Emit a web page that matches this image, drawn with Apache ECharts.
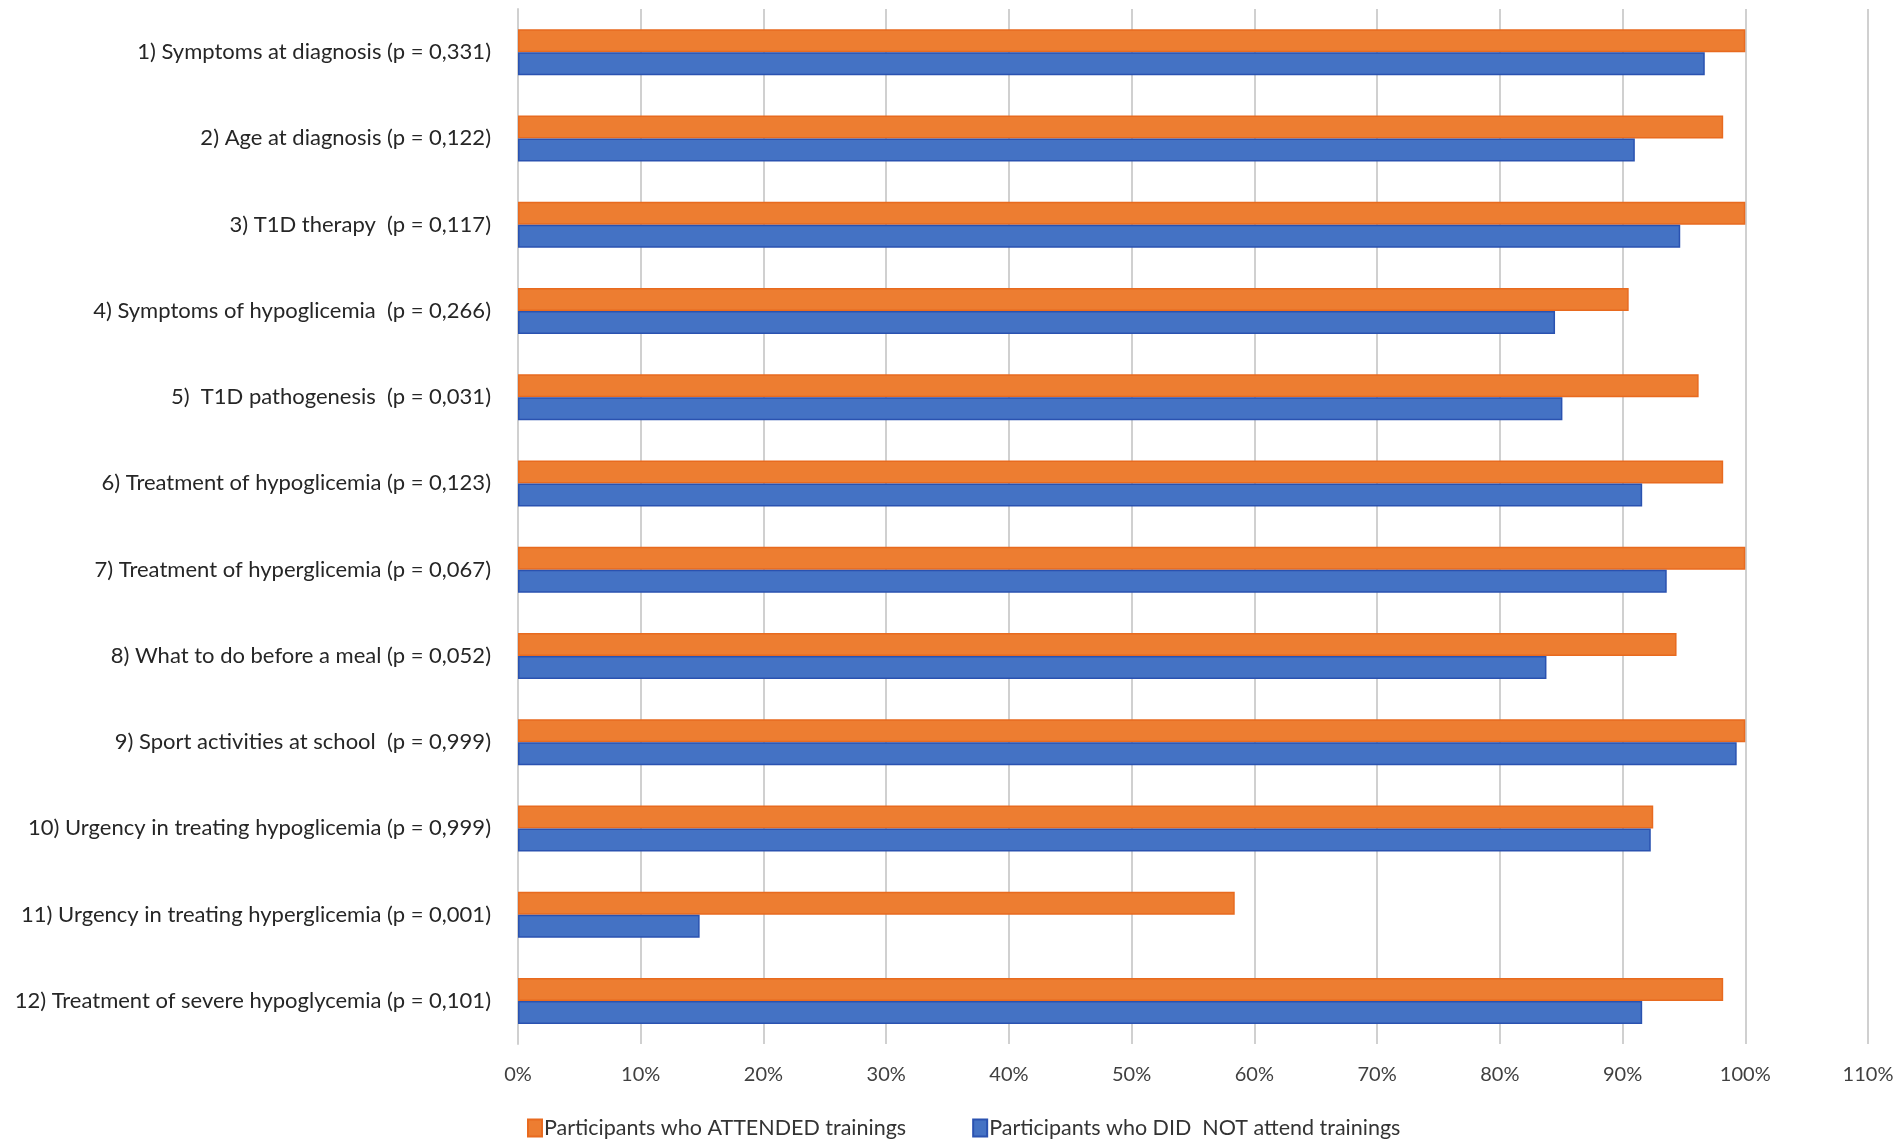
<!DOCTYPE html>
<html>
<head>
<meta charset="utf-8">
<script src="https://cdn.jsdelivr.net/npm/echarts@6/dist/echarts.min.js"></script>
<style>
html,body{margin:0;padding:0;background:#fff;}
#chart{width:1902px;height:1148px;}
</style>
</head>
<body>
<div id="chart"></div>
<script>
const categories = [
  "1) Symptoms at diagnosis (p = 0,331)",
  "2) Age at diagnosis (p = 0,122)",
  "3) T1D therapy  (p = 0,117)",
  "4) Symptoms of hypoglicemia  (p = 0,266)",
  "5)  T1D pathogenesis  (p = 0,031)",
  "6) Treatment of hypoglicemia (p = 0,123)",
  "7) Treatment of hyperglicemia (p = 0,067)",
  "8) What to do before a meal (p = 0,052)",
  "9) Sport activities at school  (p = 0,999)",
  "10) Urgency in treating hypoglicemia (p = 0,999)",
  "11) Urgency in treating hyperglicemia (p = 0,001)",
  "12) Treatment of severe hypoglycemia (p = 0,101)"
];
const attended = [100, 98.2, 100, 90.5, 96.2, 98.2, 100, 94.4, 100, 92.5, 58.4, 98.2];
const notAttended = [96.7, 91.0, 94.7, 84.5, 85.1, 91.6, 93.6, 83.8, 99.3, 92.3, 14.8, 91.6];
const seriesNames = ["Participants who ATTENDED trainings", "Participants who DID  NOT attend trainings"];
const xTicks = [0, 10, 20, 30, 40, 50, 60, 70, 80, 90, 100, 110];

const chart = echarts.init(document.getElementById('chart'), null, {renderer: 'canvas'});
const font = 'Lato, "Open Sans", sans-serif';
chart.setOption({
  animation: false,
  backgroundColor: '#ffffff',
  textStyle: {fontFamily: font},
  grid: {left: 518, right: 34, top: 9, bottom: 104},
  legend: {
    data: seriesNames,
    left: 522,
    top: 1112,
    itemWidth: 14,
    itemHeight: 17,
    itemGap: 66,
    icon: 'rect',
    textStyle: {fontFamily: font, fontSize: 21.5, color: '#333333', padding: [0,0,0,-3]}
  },
  xAxis: {
    type: 'value',
    min: xTicks[0],
    max: xTicks[xTicks.length - 1],
    interval: 10,
    axisLine: {show: false},
    axisTick: {show: false},
    splitLine: {show: true, lineStyle: {color: '#d0d0d0', width: 2}},
    axisLabel: {
      formatter: v => v + '%',
      fontFamily: font, fontSize: 20, color: '#404040', margin: 21
    }
  },
  yAxis: {
    type: 'category',
    data: categories,
    inverse: true,
    axisLine: {show: true, lineStyle: {color: '#d0d0d0', width: 2}},
    axisTick: {show: false},
    axisLabel: {fontFamily: font, fontSize: 22, color: '#262626', margin: 27}
  },
  series: [
    {
      name: seriesNames[0],
      type: 'bar',
      data: attended,
      barWidth: 23,
      barGap: '0%',
      itemStyle: {color: '#ED7D31', borderColor: '#E86A1F', borderWidth: 1.5}
    },
    {
      name: seriesNames[1],
      type: 'bar',
      data: notAttended,
      barWidth: 23,
      barGap: '0%',
      itemStyle: {color: '#4472C4', borderColor: '#2A52B0', borderWidth: 1.5}
    }
  ]
});
</script>
</body>
</html>
